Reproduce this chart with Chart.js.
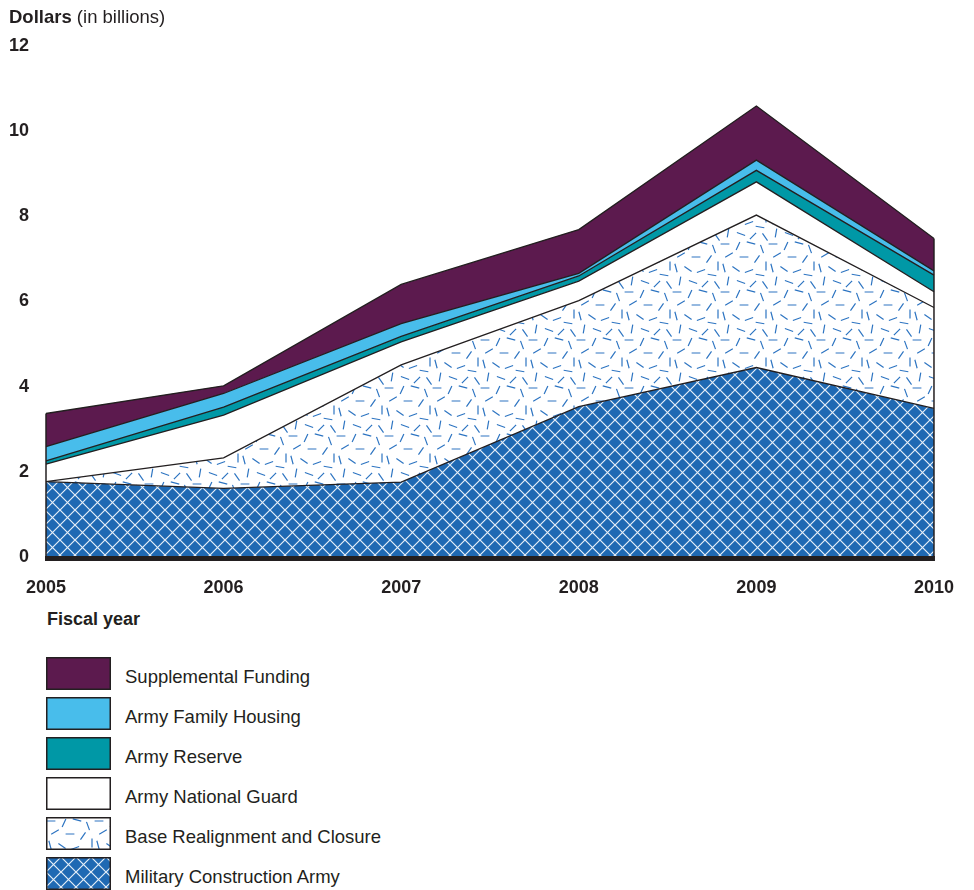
<!DOCTYPE html>
<html>
<head>
<meta charset="utf-8">
<script src="https://cdn.jsdelivr.net/npm/chart.js@4.4.1/dist/chart.umd.min.js"></script>
<style>
  body { margin: 0; background: #fff; font-family: "Liberation Sans", Arial, sans-serif; color: #231f20; }
  #wrap { position: relative; width: 974px; height: 890px; }
  #chart { position: absolute; left: 0; top: 0; }
  .title { position: absolute; left: 9px; top: 6px; font-size: 18.5px; }
  .xtitle { position: absolute; left: 47px; top: 609px; font-size: 18px; font-weight: bold; }
  .legend { position: absolute; left: 46px; top: 657px; }
  .row { display: flex; align-items: center; height: 33px; margin-bottom: 7px; }
  .row canvas { display: block; }
  .row span { margin-left: 14px; font-size: 18.5px; position: relative; top: 3px; }
</style>
</head>
<body>
<div id="wrap">
  <canvas id="chart" width="974" height="600"></canvas>
  <div class="title"><b>Dollars</b> (in billions)</div>
  <div class="xtitle">Fiscal year</div>
  <div class="legend" id="legend"></div>
</div>
<script>
// values in billions of dollars, stacked from the bottom up
const years = ['2005', '2006', '2007', '2008', '2009', '2010'];
const yTicks = [0, 2, 4, 6, 8, 10, 12];
const milCon = [1.77, 1.61, 1.76, 3.53, 4.45, 3.49];
const brac = [0.00, 0.72, 2.75, 2.49, 3.58, 2.37];
const guard = [0.41, 1.00, 0.54, 0.46, 0.78, 0.37];
const reserve = [0.08, 0.19, 0.13, 0.12, 0.27, 0.39];
const housing = [0.33, 0.32, 0.30, 0.06, 0.24, 0.10];
const supplemental = [0.78, 0.18, 0.92, 1.03, 1.27, 0.76];

const ink = '#231f20';

// white crosshatch on blue
function crossTile() {
  const c = document.createElement('canvas');
  c.width = 15; c.height = 15;
  const g = c.getContext('2d');
  g.fillStyle = '#1f69b3';
  g.fillRect(0, 0, 15, 15);
  g.strokeStyle = '#e6eff8';
  g.lineWidth = 1.2;
  g.beginPath();
  g.moveTo(-1, -1); g.lineTo(16, 16);
  g.moveTo(16, -1); g.lineTo(-1, 16);
  g.stroke();
  return c;
}

// short blue dashes on white
const dashes = [
  [5, 4, 0], [18, 6, 115], [31, 3, 15], [42, 9, 70],
  [9, 15, 150], [24, 17, 0], [37, 19, 125], [46, 26, 90],
  [4, 28, 75], [16, 29, 35], [29, 31, 160], [40, 35, 10],
  [8, 41, 100], [21, 42, 20], [33, 44, 135], [45, 45, 55]
];
function dashTile() {
  const s = 48;
  const c = document.createElement('canvas');
  c.width = s; c.height = s;
  const g = c.getContext('2d');
  g.fillStyle = '#fff';
  g.fillRect(0, 0, s, s);
  g.strokeStyle = '#2e75c2';
  g.lineWidth = 1.2;
  g.beginPath();
  dashes.forEach(([x, y, a]) => {
    const r = a * Math.PI / 180, L = 4.4;
    for (const dx of [-s, 0, s]) {
      for (const dy of [-s, 0, s]) {
        g.moveTo(x + dx - L * Math.cos(r), y + dy - L * Math.sin(r));
        g.lineTo(x + dx + L * Math.cos(r), y + dy + L * Math.sin(r));
      }
    }
  });
  g.stroke();
  return c;
}

const ctx = document.getElementById('chart').getContext('2d');
const crossFill = ctx.createPattern(crossTile(), 'repeat');
const dashFill = ctx.createPattern(dashTile(), 'repeat');

const series = [
  { label: 'Military Construction Army', data: milCon, fill: crossFill },
  { label: 'Base Realignment and Closure', data: brac, fill: dashFill },
  { label: 'Army National Guard', data: guard, fill: '#ffffff' },
  { label: 'Army Reserve', data: reserve, fill: '#0098a6' },
  { label: 'Army Family Housing', data: housing, fill: '#48bdeb' },
  { label: 'Supplemental Funding', data: supplemental, fill: '#5c1a4e' }
];

// outline ends of the stack and the heavy baseline
const edgePlugin = {
  id: 'edges',
  afterDatasetsDraw(chart) {
    const { ctx, chartArea, scales } = chart;
    const top = chart.getDatasetMeta(chart.data.datasets.length - 1).data;
    const base = scales.y.getPixelForValue(0);
    ctx.save();
    ctx.strokeStyle = ink;
    ctx.lineWidth = 1.5;
    [top[0], top[top.length - 1]].forEach(p => {
      ctx.beginPath();
      ctx.moveTo(p.x, p.y);
      ctx.lineTo(p.x, base);
      ctx.stroke();
    });
    ctx.lineWidth = 5;
    ctx.beginPath();
    ctx.moveTo(chartArea.left - 1, base + 1.5);
    ctx.lineTo(chartArea.right + 1, base + 1.5);
    ctx.stroke();
    ctx.restore();
  }
};

new Chart(ctx, {
  type: 'line',
  data: {
    labels: years,
    datasets: series.map((s, i) => ({
      label: s.label,
      data: s.data,
      backgroundColor: s.fill,
      borderColor: ink,
      borderWidth: 1.3,
      pointRadius: 0,
      tension: 0,
      fill: i === 0 ? 'origin' : '-1'
    }))
  },
  options: {
    responsive: false,
    animation: false,
    layout: { padding: { top: 46, right: 38, left: 0, bottom: 0 } },
    plugins: { legend: { display: false }, tooltip: { enabled: false } },
    scales: {
      x: {
        offset: false,
        grid: { display: false, drawTicks: false },
        border: { display: false },
        ticks: { color: ink, font: { family: 'Liberation Sans', size: 18, weight: 'bold' }, padding: 20, maxRotation: 0, autoSkip: false },
        afterFit: s => { s.height = 43; }
      },
      y: {
        stacked: true,
        min: 0,
        max: 12,
        grid: { display: false, drawTicks: false },
        border: { display: false },
        ticks: { color: ink, font: { family: 'Liberation Sans', size: 18, weight: 'bold' }, padding: 17 },
        afterBuildTicks: s => { s.ticks = yTicks.map(v => ({ value: v })); },
        afterFit: s => { s.width = 46; }
      }
    }
  },
  plugins: [edgePlugin]
});

// legend, top layer first
const legend = document.getElementById('legend');
series.slice().reverse().forEach(s => {
  const row = document.createElement('div');
  row.className = 'row';
  const sw = document.createElement('canvas');
  sw.width = 65; sw.height = 33;
  const g = sw.getContext('2d');
  g.fillStyle = typeof s.fill === 'string' ? s.fill : g.createPattern(s.fill === crossFill ? crossTile() : dashTile(), 'repeat');
  g.fillRect(0, 0, 65, 33);
  g.strokeStyle = ink;
  g.lineWidth = 1.5;
  g.strokeRect(0.75, 0.75, 63.5, 31.5);
  const t = document.createElement('span');
  t.textContent = s.label;
  row.appendChild(sw);
  row.appendChild(t);
  legend.appendChild(row);
});
</script>
</body>
</html>
